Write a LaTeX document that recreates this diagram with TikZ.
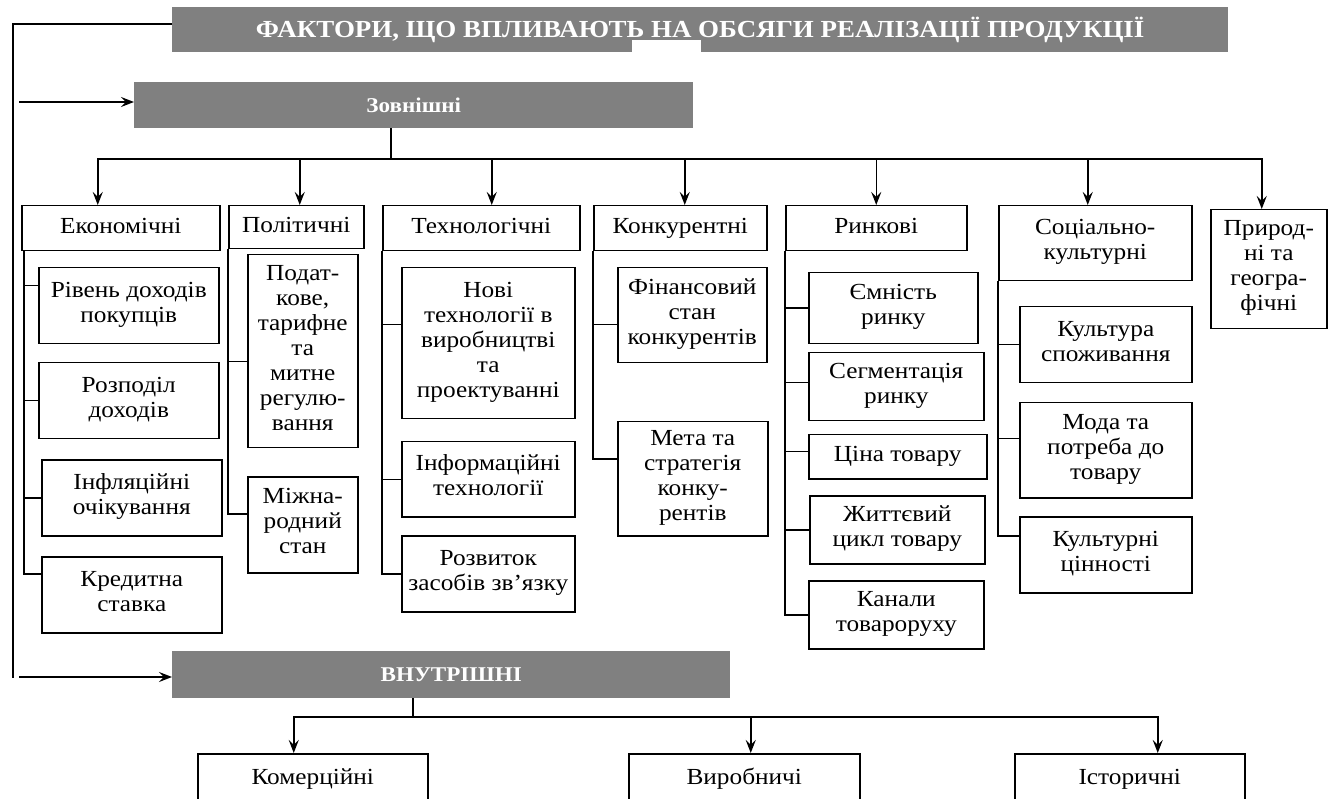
\documentclass[tikz,border=0pt]{standalone}
\usepackage{fontspec}
\setmainfont{Liberation Serif}[FakeStretch=1.1]
\usetikzlibrary{arrows.meta}
\definecolor{headgray}{RGB}{128,128,128}
\tikzset{
    factor/.style={draw, line width=1.5pt, align=center, inner sep=1pt, anchor=north west,
        font=\fontsize{23}{25}\selectfont,
        execute at begin node=\strut, execute at end node=\strut},
    head/.style={fill=headgray, text=white, anchor=north west, inner sep=0pt,
        font=\bfseries\fontsize{21}{24}\selectfont},
    link/.style={line width=1.5pt},
    arr/.style={line width=1.5pt, -{Stealth[length=13pt,width=10pt,inset=5pt]}}
}
\begin{document}
\begin{tikzpicture}[x=1pt,y=-1pt]
    \useasboundingbox (0,0) rectangle (1339,799);
    \clip (0,0) rectangle (1339,799);

    % Kopf
    \node[head, minimum width=1056, minimum height=45, font=\bfseries\fontsize{24.5}{26}\selectfont] (title) at (172,7)
        {ФАКТОРИ, ЩО ВПЛИВАЮТЬ НА ОБСЯГИ РЕАЛІЗАЦІЇ ПРОДУКЦІЇ};
    \fill[white] (632,40) rectangle (701,53);
    \node[head, minimum width=559, minimum height=46] (zovn) at (134,82) {Зовнішні};
    \node[head, minimum width=558, minimum height=47] (vnut) at (172,651) {ВНУТРІШНІ};

    % linke Leitung
    \coordinate (topL) at (13,24);
    \coordinate (botL) at (13,678);
    \coordinate (inZ) at (19,102);
    \coordinate (inV) at (19,677);
    \draw[link] (title.west |- topL) -- (topL) -- (botL);
    \draw[arr] (inZ) -- (inZ -| zovn.west);
    \draw[arr] (inV) -- (inV -| vnut.west);

    % Gruppen
    \node[factor, minimum width=198, minimum height=45] (eco) at (21,205) {Економічні};
    \node[factor, minimum width=135, minimum height=43] (pol) at (228,205) {Політичні};
    \node[factor, minimum width=197, minimum height=45] (tech) at (382,205) {Технологічні};
    \node[factor, minimum width=173, minimum height=45] (konk) at (593,205) {Конкурентні};
    \node[factor, minimum width=181, minimum height=45] (rynk) at (785,205) {Ринкові};
    \node[factor, minimum width=193, minimum height=75] (soc) at (998,205) {Соціально-\\культурні};
    \node[factor, minimum width=116, minimum height=119] (pryr) at (1210,209) {Природ-\\ні та\\геогра-\\фічні};

    \coordinate (busZ) at (391,159);
    \draw[link] (busZ |- zovn.south) -- (busZ);
    \draw[arr] (busZ) -| ([xshift=-23pt]eco.north);
    \draw[arr] (busZ) -| ([xshift=3.5pt]pol.north);
    \draw[arr] (busZ) -| ([xshift=10.5pt]tech.north);
    \draw[arr] (busZ) -| ([xshift=4.5pt]konk.north);
    \draw[arr] (busZ) -| (rynk.north);
    \draw[arr] (busZ) -| ([xshift=-7.5pt]soc.north);
    \draw[arr] (busZ) -| ([xshift=-7pt]pryr.north);

    % Економічні
    \node[factor, minimum width=180, minimum height=76] (eco1) at (38,267) {Рівень доходів\\покупців};
    \node[factor, minimum width=180, minimum height=76] (eco2) at (38,362) {Розподіл\\доходів};
    \node[factor, minimum width=180, minimum height=76] (eco3) at (41,459) {Інфляційні\\очікування};
    \node[factor, minimum width=180, minimum height=76] (eco4) at (41,556) {Кредитна\\ставка};
    \draw[link] ([xshift=3pt]eco.south west) |- ([yshift=20pt]eco1.west);
    \draw[link] ([xshift=3pt]eco.south west) |- (eco2.west);
    \draw[link] ([xshift=3pt]eco.south west) |- (eco3.west);
    \draw[link] ([xshift=3pt]eco.south west) |- ([yshift=21pt]eco4.west);

    % Політичні
    \node[factor, minimum width=110, minimum height=193] (pol1) at (247,254)
        {Подат-\\кове,\\тарифне\\та\\митне\\регулю-\\вання};
    \node[factor, minimum width=110, minimum height=96] (pol2) at (247,476) {Міжна-\\родний\\стан};
    \draw[link] (pol.south west) |- ([yshift=-10.5pt]pol1.west);
    \draw[link] (pol.south west) |- ([yshift=11pt]pol2.west);

    % Технологічні
    \node[factor, minimum width=173, minimum height=151] (tech1) at (401,267)
        {Нові\\технології в\\виробництві\\та\\проектуванні};
    \node[factor, minimum width=173, minimum height=75] (tech2) at (401,441) {Інформаційні\\технології};
    \node[factor, minimum width=173, minimum height=76] (tech3) at (401,535) {Розвиток\\засобів зв’язку};
    \draw[link] (tech.south west) |- ([yshift=18.5pt]tech1.west);
    \draw[link] (tech.south west) |- (tech2.west);
    \draw[link] (tech.south west) |- (tech3.west);

    % Конкурентні
    \node[factor, minimum width=149, minimum height=95] (konk1) at (617,267) {Фінансовий\\стан\\конкурентів};
    \node[factor, minimum width=150, minimum height=114] (konk2) at (617,421) {Мета та\\стратегія\\конку-\\рентів};
    \draw[link] (konk.south west) |- ([yshift=-9.5pt]konk1.west);
    \draw[link] (konk.south west) |- ([yshift=20pt]konk2.west);

    % Ринкові
    \node[factor, minimum width=169, minimum height=71] (rynk1) at (808,272) {Ємність\\ринку};
    \node[factor, minimum width=175, minimum height=68] (rynk2) at (808,352) {Сегментація\\ринку};
    \node[factor, minimum width=178, minimum height=44] (rynk3) at (808,434) {Ціна товару};
    \node[factor, minimum width=175, minimum height=68] (rynk4) at (809,495) {Життєвий\\цикл товару};
    \node[factor, minimum width=175, minimum height=68] (rynk5) at (808,580) {Канали\\товароруху};
    \draw[link] (rynk.south west) |- (rynk1.west);
    \draw[link] (rynk.south west) |- ([yshift=4pt]rynk2.west);
    \draw[link] (rynk.south west) |- ([yshift=5pt]rynk3.west);
    \draw[link] (rynk.south west) |- (rynk4.west);
    \draw[link] (rynk.south west) |- (rynk5.west);

    % Соціально-культурні
    \node[factor, minimum width=172, minimum height=76] (soc1) at (1019,306) {Культура\\споживання};
    \node[factor, minimum width=172, minimum height=95] (soc2) at (1019,402) {Мода та\\потреба до\\товару};
    \node[factor, minimum width=172, minimum height=76] (soc3) at (1019,516) {Культурні\\цінності};
    \draw[link] (soc.south west) |- (soc1.west);
    \draw[link] (soc.south west) |- ([yshift=11.5pt]soc2.west);
    \draw[link] (soc.south west) |- ([yshift=19pt]soc3.west);

    % Внутрішні
    \node[factor, minimum width=230, minimum height=52] (kom) at (197,753) {Комерційні};
    \node[factor, minimum width=231, minimum height=52] (vyr) at (628,753) {Виробничі};
    \node[factor, minimum width=230, minimum height=52] (ist) at (1014,753) {Історичні};
    \coordinate (busV) at (413,717);
    \draw[link] (busV |- vnut.south) -- (busV);
    \draw[arr] (busV) -| ([xshift=-19pt]kom.north);
    \draw[arr] (busV) -| ([xshift=6.5pt]vyr.north);
    \draw[arr] (busV) -| ([xshift=28pt]ist.north);
\end{tikzpicture}
\end{document}
